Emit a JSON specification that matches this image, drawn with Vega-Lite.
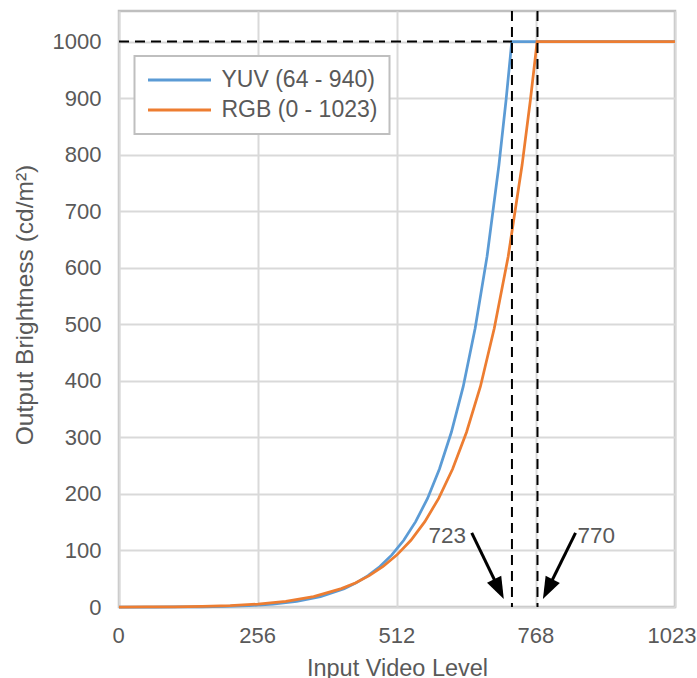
{
  "$schema": "https://vega.github.io/schema/vega-lite/v6.json",
  "width": 556,
  "height": 596,
  "autosize": {"type": "none"},
  "padding": {"left": 119, "top": 11, "right": 22, "bottom": 71},
  "background": "white",
  "config": {
    "font": "Liberation Sans",
    "view": {"stroke": "#bfbfbf", "strokeWidth": 2.5},
    "axis": {
      "domain": false,
      "ticks": false,
      "tickSize": 0,
      "gridColor": "#d9d9d9",
      "gridWidth": 2,
      "labelFont": "Liberation Sans",
      "labelFontSize": 22,
      "labelColor": "#595959",
      "titleFont": "Liberation Sans",
      "titleColor": "#595959",
      "titleFontWeight": "normal"
    },
    "legend": {"strokeWidth": 2}
  },
  "datasets": {
    "curves": [
      {"series": "YUV (64 - 940)", "level": 0, "nits": 0},
      {"series": "YUV (64 - 940)", "level": 64, "nits": 0},
      {"series": "YUV (64 - 940)", "level": 107.8, "nits": 0.06},
      {"series": "YUV (64 - 940)", "level": 151.6, "nits": 0.32},
      {"series": "YUV (64 - 940)", "level": 195.4, "nits": 1.0},
      {"series": "YUV (64 - 940)", "level": 239.2, "nits": 2.4},
      {"series": "YUV (64 - 940)", "level": 283, "nits": 5.2},
      {"series": "YUV (64 - 940)", "level": 326.8, "nits": 10.1},
      {"series": "YUV (64 - 940)", "level": 370.6, "nits": 18.4},
      {"series": "YUV (64 - 940)", "level": 414.4, "nits": 32.5},
      {"series": "YUV (64 - 940)", "level": 436.3, "nits": 42.6},
      {"series": "YUV (64 - 940)", "level": 458.2, "nits": 55.4},
      {"series": "YUV (64 - 940)", "level": 480.1, "nits": 71.6},
      {"series": "YUV (64 - 940)", "level": 502, "nits": 92.2},
      {"series": "YUV (64 - 940)", "level": 523.9, "nits": 118},
      {"series": "YUV (64 - 940)", "level": 545.8, "nits": 151},
      {"series": "YUV (64 - 940)", "level": 567.7, "nits": 192},
      {"series": "YUV (64 - 940)", "level": 589.6, "nits": 244},
      {"series": "YUV (64 - 940)", "level": 611.5, "nits": 309},
      {"series": "YUV (64 - 940)", "level": 633.4, "nits": 390},
      {"series": "YUV (64 - 940)", "level": 655.3, "nits": 493},
      {"series": "YUV (64 - 940)", "level": 677.2, "nits": 620},
      {"series": "YUV (64 - 940)", "level": 699.1, "nits": 782},
      {"series": "YUV (64 - 940)", "level": 712.2, "nits": 897},
      {"series": "YUV (64 - 940)", "level": 721, "nits": 983},
      {"series": "YUV (64 - 940)", "level": 722.6, "nits": 1000},
      {"series": "YUV (64 - 940)", "level": 1023, "nits": 1000},
      {"series": "RGB (0 - 1023)", "level": 0, "nits": 0},
      {"series": "RGB (0 - 1023)", "level": 51.2, "nits": 0.06},
      {"series": "RGB (0 - 1023)", "level": 102.3, "nits": 0.32},
      {"series": "RGB (0 - 1023)", "level": 153.5, "nits": 1.0},
      {"series": "RGB (0 - 1023)", "level": 204.6, "nits": 2.4},
      {"series": "RGB (0 - 1023)", "level": 255.8, "nits": 5.2},
      {"series": "RGB (0 - 1023)", "level": 306.9, "nits": 10.1},
      {"series": "RGB (0 - 1023)", "level": 358.1, "nits": 18.4},
      {"series": "RGB (0 - 1023)", "level": 409.2, "nits": 32.5},
      {"series": "RGB (0 - 1023)", "level": 434.8, "nits": 42.6},
      {"series": "RGB (0 - 1023)", "level": 460.4, "nits": 55.4},
      {"series": "RGB (0 - 1023)", "level": 485.9, "nits": 71.6},
      {"series": "RGB (0 - 1023)", "level": 511.5, "nits": 92.2},
      {"series": "RGB (0 - 1023)", "level": 537.1, "nits": 118},
      {"series": "RGB (0 - 1023)", "level": 562.7, "nits": 151},
      {"series": "RGB (0 - 1023)", "level": 588.2, "nits": 192},
      {"series": "RGB (0 - 1023)", "level": 613.8, "nits": 244},
      {"series": "RGB (0 - 1023)", "level": 639.4, "nits": 309},
      {"series": "RGB (0 - 1023)", "level": 665, "nits": 390},
      {"series": "RGB (0 - 1023)", "level": 690.5, "nits": 493},
      {"series": "RGB (0 - 1023)", "level": 716.1, "nits": 620},
      {"series": "RGB (0 - 1023)", "level": 741.7, "nits": 782},
      {"series": "RGB (0 - 1023)", "level": 757, "nits": 897},
      {"series": "RGB (0 - 1023)", "level": 767.3, "nits": 983},
      {"series": "RGB (0 - 1023)", "level": 769.1, "nits": 1000},
      {"series": "RGB (0 - 1023)", "level": 1023, "nits": 1000}
    ],
    "vlines": [{"level": 723}, {"level": 770}],
    "hline": [{"from": 0, "to": 723, "nits": 1000}],
    "arrows": [
      {"label": "723", "x0": 649, "y0": 131, "x1": 698.3, "y1": 33.2, "tipX": 708, "tipY": 14, "tx": 604, "ty": 113},
      {"label": "770", "x0": 840, "y0": 131, "x1": 789.7, "y1": 33.2, "tipX": 780, "tipY": 14, "tx": 878, "ty": 113}
    ]
  },
  "layer": [
    {
      "data": {"name": "curves"},
      "mark": {"type": "line", "strokeWidth": 2.75},
      "encoding": {
        "x": {
          "field": "level",
          "type": "quantitative",
          "scale": {"domain": [0, 1023], "nice": false},
          "axis": {
            "values": [0, 256, 512, 768, 1023],
            "format": "d",
            "title": "Input Video Level",
            "titleFontSize": 23.5,
            "labelPadding": 18,
            "labelFlush": false,
            "labelOverlap": false,
            "labelOffset": {"condition": {"test": "datum.value == 1023", "value": -3.5}, "value": -1},
            "titleBaseline": "alphabetic",
            "titleY": 68
          }
        },
        "y": {
          "field": "nits",
          "type": "quantitative",
          "scale": {"domain": [0, 1054], "nice": false},
          "axis": {
            "values": [0, 100, 200, 300, 400, 500, 600, 700, 800, 900, 1000],
            "format": "d",
            "title": "Output Brightness (cd/m²)",
            "titleFontSize": 24.5,
            "labelPadding": 18,
            "labelOverlap": false,
            "titleBaseline": "alphabetic",
            "titleX": -87,
            "titleY": 293.5
          }
        },
        "color": {
          "field": "series",
          "type": "nominal",
          "scale": {"domain": ["YUV (64 - 940)", "RGB (0 - 1023)"], "range": ["#5B9BD5", "#ED7D31"]},
          "legend": {
            "orient": "none",
            "legendX": 15.5,
            "legendY": 45,
            "title": null,
            "symbolType": "stroke",
            "symbolSize": 3969,
            "symbolStrokeWidth": 3,
            "clipHeight": 24,
            "labelFontSize": 23,
            "labelColor": "#595959",
            "labelFont": "Liberation Sans",
            "labelOffset": 9,
            "padding": 12,
            "rowPadding": 6,
            "strokeColor": "#bfbfbf",
            "fillColor": "white"
          }
        }
      }
    },
    {
      "data": {"name": "vlines"},
      "mark": {"type": "rule", "color": "black", "strokeWidth": 2, "strokeDash": [10, 6]},
      "encoding": {"x": {"field": "level", "type": "quantitative"}}
    },
    {
      "data": {"name": "hline"},
      "mark": {"type": "rule", "color": "black", "strokeWidth": 2, "strokeDash": [10, 6]},
      "encoding": {
        "x": {"field": "from", "type": "quantitative"},
        "x2": {"field": "to"},
        "y": {"field": "nits", "type": "quantitative"}
      }
    },
    {
      "data": {"name": "arrows"},
      "mark": {"type": "rule", "color": "black", "strokeWidth": 3},
      "encoding": {
        "x": {"field": "x0", "type": "quantitative"},
        "y": {"field": "y0", "type": "quantitative"},
        "x2": {"field": "x1"},
        "y2": {"field": "y1"}
      }
    },
    {
      "data": {"name": "arrows"},
      "transform": [{"filter": "datum.label == '723'"}],
      "mark": {"type": "point", "shape": "M0,0L0.36,1L-0.36,1Z", "size": 1936, "filled": true, "color": "black", "opacity": 1, "angle": 153.9},
      "encoding": {
        "x": {"field": "tipX", "type": "quantitative"},
        "y": {"field": "tipY", "type": "quantitative"}
      }
    },
    {
      "data": {"name": "arrows"},
      "transform": [{"filter": "datum.label == '770'"}],
      "mark": {"type": "point", "shape": "M0,0L0.36,1L-0.36,1Z", "size": 1936, "filled": true, "color": "black", "opacity": 1, "angle": 206.4},
      "encoding": {
        "x": {"field": "tipX", "type": "quantitative"},
        "y": {"field": "tipY", "type": "quantitative"}
      }
    },
    {
      "data": {"name": "arrows"},
      "mark": {"type": "text", "fontSize": 22.5, "color": "#595959", "align": "center", "baseline": "alphabetic", "font": "Liberation Sans"},
      "encoding": {
        "x": {"field": "tx", "type": "quantitative"},
        "y": {"field": "ty", "type": "quantitative"},
        "text": {"field": "label"}
      }
    }
  ]
}
